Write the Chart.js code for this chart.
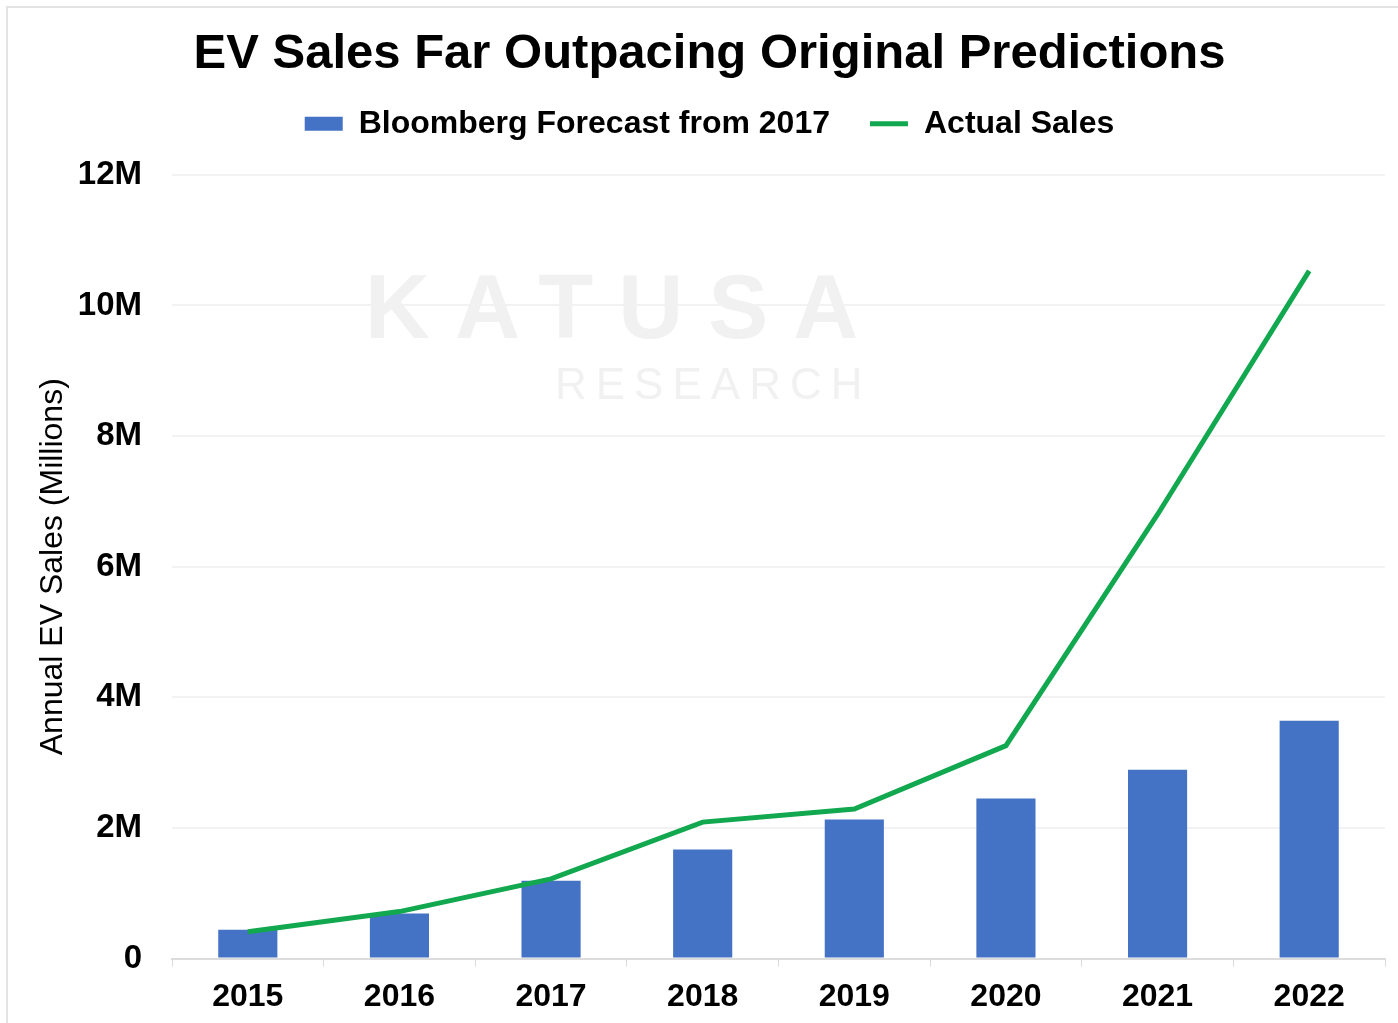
<!DOCTYPE html>
<html>
<head>
<meta charset="utf-8">
<script src="https://cdn.jsdelivr.net/npm/chart.js@4.4.0/dist/chart.umd.min.js"></script>
<style>
  html, body { margin: 0; padding: 0; background: #fff; }
  #wrap { position: relative; width: 1398px; height: 1023px; }
  #frame { position: absolute; left: 6px; top: 6px; right: -10px; bottom: -10px;
           border-left: 2px solid #e3e3e3; border-top: 2px solid #e3e3e3; }
  canvas { position: absolute; left: 0; top: 0; }
</style>
</head>
<body>
<div id="wrap">
  <div id="frame"></div>
  <canvas id="evChart" width="1398" height="1023"></canvas>
</div>
<script>
// values in millions of units
const years = ['2015', '2016', '2017', '2018', '2019', '2020', '2021', '2022'];
const forecast = [0.44, 0.69, 1.19, 1.67, 2.13, 2.45, 2.89, 3.64];
const actual = [0.41, 0.72, 1.22, 2.09, 2.29, 3.26, 6.8, 10.53];
const yTicks = [0, 2, 4, 6, 8, 10, 12];

const font = "'Liberation Sans', Arial, sans-serif";

// faint "KATUSA RESEARCH" watermark behind the data
const watermark = {
  id: 'watermark',
  beforeDatasetsDraw(chart) {
    const ctx = chart.ctx;
    ctx.save();
    ctx.fillStyle = '#f1f1f1';
    ctx.textBaseline = 'alphabetic';
    ctx.letterSpacing = '25px';
    ctx.font = 'bold 90px ' + font;
    ctx.fillText('KATUSA', 365, 338);
    ctx.letterSpacing = '9px';
    ctx.font = '44px ' + font;
    ctx.fillText('RESEARCH', 555, 399);
    ctx.restore();
  }
};

// extra room below the legend
const legendGap = {
  id: 'legendGap',
  beforeInit(chart) {
    const fit = chart.legend.fit;
    chart.legend.fit = function () {
      fit.call(this);
      this.height += 25;
    };
  }
};

const ctx = document.getElementById('evChart');
new Chart(ctx, {
  type: 'bar',
  data: {
    labels: years,
    datasets: [{
      type: 'line',
      label: 'Actual Sales',
      data: actual,
      borderColor: '#12a84f',
      backgroundColor: '#12a84f',
      borderWidth: 5,
      pointRadius: 0,
      tension: 0,
      order: 0
    }, {
      label: 'Bloomberg Forecast from 2017',
      data: forecast,
      backgroundColor: '#4472c4',
      barPercentage: 0.39,
      categoryPercentage: 1,
      order: 1
    }]
  },
  options: {
    responsive: false,
    animation: false,
    layout: { padding: { left: 34, right: 13, top: 25, bottom: -4 } },
    plugins: {
      title: {
        display: true,
        text: 'EV Sales Far Outpacing Original Predictions',
        color: '#000',
        font: { family: font, size: 49, weight: 'bold' },
        padding: { top: 0, bottom: -16 }
      },
      legend: {
        position: 'top',
        reverse: true,
        labels: {
          color: '#000',
          font: { family: font, size: 32, weight: 'bold' },
          usePointStyle: true,
          pointStyleWidth: 38,
          boxHeight: 14,
          padding: 40,
          generateLabels(chart) {
            const items = Chart.defaults.plugins.legend.labels.generateLabels(chart);
            items.forEach(it => {
              const ds = chart.data.datasets[it.datasetIndex];
              if (ds.type === 'line') {
                it.pointStyle = 'line';
                it.lineWidth = 5;
                it.strokeStyle = ds.borderColor;
              } else {
                it.pointStyle = 'rect';
                it.lineWidth = 0;
                it.fillStyle = ds.backgroundColor;
              }
            });
            return items;
          }
        }
      },
      tooltip: { enabled: false }
    },
    scales: {
      x: {
        grid: { display: true, drawOnChartArea: false, offset: true, color: '#dcdcdc', tickLength: 8 },
        border: { color: '#dcdcdc', width: 2 },
        ticks: { color: '#000', font: { family: font, size: 32, weight: 'bold' }, padding: 11 }
      },
      y: {
        min: 0,
        max: 12,
        afterBuildTicks(axis) { axis.ticks = yTicks.map(v => ({ value: v })); },
        afterFit(axis) { axis.width = 138; },
        grid: { color: '#f2f2f2', lineWidth: 2, drawTicks: false },
        border: { display: false },
        ticks: {
          color: '#000',
          font: { family: font, size: 33, weight: 'bold' },
          padding: 30,
          callback: v => v === 0 ? '0' : v + 'M'
        },
        title: {
          display: true,
          text: 'Annual EV Sales (Millions)',
          color: '#000',
          font: { family: font, size: 32 },
          padding: { top: 0, bottom: 0 }
        }
      }
    }
  },
  plugins: [watermark, legendGap]
});
</script>
</body>
</html>
